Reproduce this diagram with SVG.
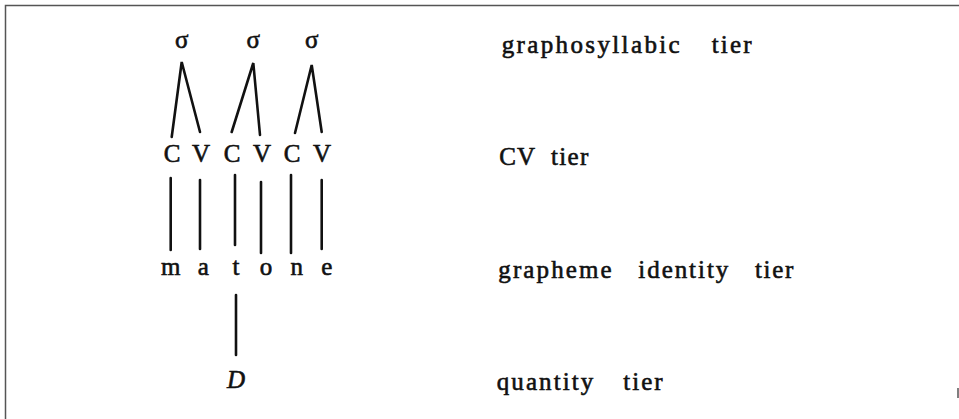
<svg xmlns="http://www.w3.org/2000/svg" width="959" height="419" viewBox="0 0 959 419">
<style>
.t{font-family:"Liberation Serif","Times New Roman",serif;font-size:25px;fill:#111;stroke:#111;stroke-width:0.6}
.c{text-anchor:middle}
.l{stroke:#111;stroke-width:2.6;fill:none;stroke-linecap:round}
.f{stroke:#555;stroke-width:1.5;fill:none}
</style>
<rect width="959" height="419" fill="#fff"/>
<g id="frame">
<path class="f" d="M959,5.5 H5.5 V419"/>
<path class="f" d="M958,388 V398"/>
</g>
<g id="connectors">
<path class="l" d="M171.7,137 L181.7,62 L200,132"/>
<path class="l" d="M231.7,132 L253.3,63 L260,135"/>
<path class="l" d="M295,133 L311.7,65 L321.7,132"/>
<path class="l" d="M170.7,178 V250"/>
<path class="l" d="M200,180 V249"/>
<path class="l" d="M235,175 V245"/>
<path class="l" d="M261,182 V253"/>
<path class="l" d="M291,175 V253"/>
<path class="l" d="M321.7,180 V249"/>
<path class="l" d="M236,295 V355"/>
</g>
<g id="sigma-tier">
<text class="t c" x="181.7" y="48">σ</text>
<text class="t c" x="253.3" y="48">σ</text>
<text class="t c" x="311.7" y="48">σ</text>
</g>
<g id="cv-tier">
<text class="t c" x="172" y="162">C</text>
<text class="t c" x="201" y="162">V</text>
<text class="t c" x="232" y="162">C</text>
<text class="t c" x="262" y="162">V</text>
<text class="t c" x="292" y="162">C</text>
<text class="t c" x="322" y="162">V</text>
</g>
<g id="grapheme-tier">
<text class="t c" x="170.7" y="275">m</text>
<text class="t c" x="203.3" y="275">a</text>
<text class="t c" x="236" y="275">t</text>
<text class="t c" x="266" y="275">o</text>
<text class="t c" x="296.7" y="275">n</text>
<text class="t c" x="326.7" y="275">e</text>
</g>
<g id="quantity-tier">
<text class="t c" x="236" y="388" font-style="italic">D</text>
</g>
<g id="labels">
<text class="t" x="501.7" y="53" textLength="178" lengthAdjust="spacing">graphosyllabic</text>
<text class="t" x="711.7" y="53" textLength="40" lengthAdjust="spacing">tier</text>
<text class="t" x="499.3" y="165" textLength="35.7" lengthAdjust="spacing">CV</text>
<text class="t" x="551" y="165" textLength="37.3" lengthAdjust="spacing">tier</text>
<text class="t" x="498.3" y="278" textLength="113.4" lengthAdjust="spacing">grapheme</text>
<text class="t" x="638.3" y="278" textLength="90" lengthAdjust="spacing">identity</text>
<text class="t" x="755" y="278" textLength="38.3" lengthAdjust="spacing">tier</text>
<text class="t" x="496.7" y="390" textLength="96.6" lengthAdjust="spacing">quantity</text>
<text class="t" x="623.3" y="390" textLength="39.4" lengthAdjust="spacing">tier</text>
</g>
</svg>
